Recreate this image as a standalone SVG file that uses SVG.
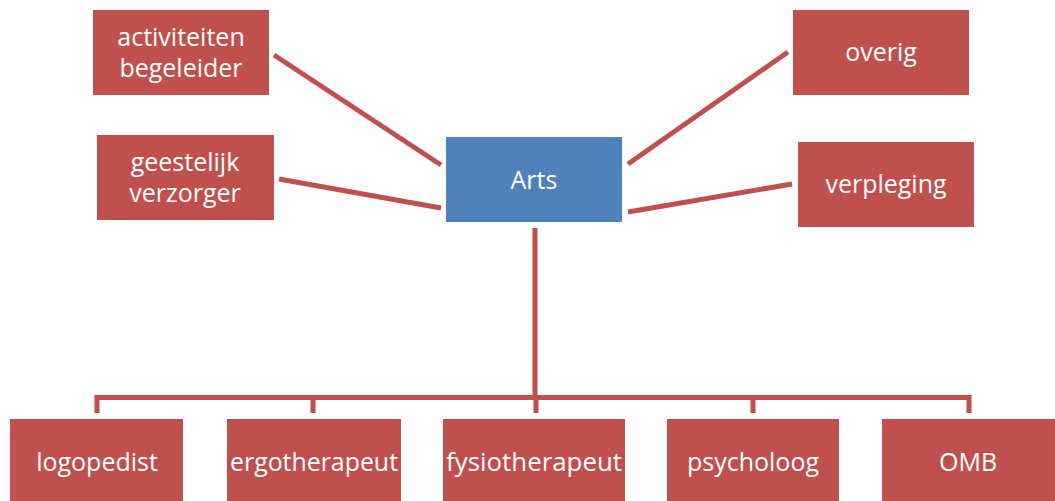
<svg xmlns="http://www.w3.org/2000/svg" width="1055" height="501" viewBox="0 0 1055 501">
<style>
.box{fill:#C0504D}
.arts{fill:#4F81BD}
.t{fill:#fff;font-family:"Open Sans","Liberation Sans",Arial,sans-serif;font-size:25px;text-anchor:middle}
.c{stroke:#C0504D;stroke-width:5;fill:none}
</style>
<rect width="1055" height="501" fill="#fff"/>
<g id="connectors">
<line class="c" x1="274" y1="55" x2="441" y2="165"/>
<line class="c" x1="279" y1="179" x2="441" y2="208"/>
<line class="c" x1="628" y1="164" x2="788" y2="52"/>
<line class="c" x1="628" y1="212" x2="792" y2="184"/>
<path class="c" d="M535 228 V397.5 M97 413 V397.5 H969 V413 M313 397.5 V413 M536 397.5 V413 M753 397.5 V413"/>
</g>
<g id="arts"><rect class="arts" x="446" y="137" width="176" height="85"/><text class="t" x="534" y="189">Arts</text></g>
<g id="activiteiten"><rect class="box" x="93" y="10" width="176" height="85"/><text class="t" x="181" y="46">activiteiten</text><text class="t" x="181" y="77">begeleider</text></g>
<g id="geestelijk"><rect class="box" x="97" y="135" width="177" height="85"/><text class="t" x="185" y="171">geestelijk</text><text class="t" x="185" y="202">verzorger</text></g>
<g id="overig"><rect class="box" x="793" y="10" width="176" height="85"/><text class="t" x="881" y="61">overig</text></g>
<g id="verpleging"><rect class="box" x="798" y="142" width="176" height="85"/><text class="t" x="886" y="193">verpleging</text></g>
<g id="logopedist"><rect class="box" x="10" y="419" width="173" height="85"/><text class="t" x="97" y="471">logopedist</text></g>
<g id="ergotherapeut"><rect class="box" x="227" y="419" width="174" height="85"/><text class="t" x="314" y="471" textLength="168" lengthAdjust="spacingAndGlyphs">ergotherapeut</text></g>
<g id="fysiotherapeut"><rect class="box" x="443" y="419" width="182" height="85"/><text class="t" x="534" y="471" textLength="176" lengthAdjust="spacingAndGlyphs">fysiotherapeut</text></g>
<g id="psycholoog"><rect class="box" x="667" y="419" width="172" height="85"/><text class="t" x="753" y="471">psycholoog</text></g>
<g id="omb"><rect class="box" x="882" y="419" width="173" height="85"/><text class="t" x="968" y="471">OMB</text></g>
</svg>
